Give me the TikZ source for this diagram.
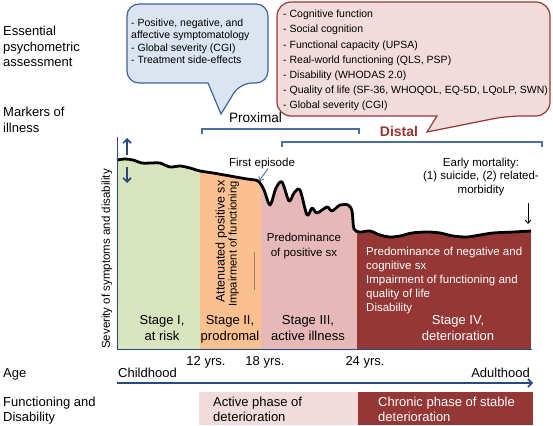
\documentclass[tikz,border=0pt]{standalone}
\usepackage{fontspec}
\setmainfont{Liberation Sans}
\usetikzlibrary{arrows.meta}
\definecolor{stgreen}{HTML}{D7E4BD}
\definecolor{storange}{HTML}{FAC08F}
\definecolor{stpink}{HTML}{E6B9B8}
\definecolor{stred}{HTML}{953735}
\definecolor{lightpink}{HTML}{F2DCDB}
\definecolor{bubblue}{HTML}{DBE5F1}
\definecolor{bubblueline}{HTML}{3E6397}
\definecolor{axisblue}{HTML}{254A7E}
\definecolor{bracketblue}{HTML}{4A6E9E}
\tikzset{
  lbl/.style={font=\fontsize{13}{15.5}\selectfont, align=left, anchor=north west, inner sep=0pt},
  bubtext/.style={font=\fontsize{10.5}{12.4}\selectfont, align=left, anchor=north west, inner sep=0pt},
  redtext/.style={font=\fontsize{10.5}{15.1}\selectfont, align=left, anchor=north west, inner sep=0pt},
  stagelbl/.style={font=\fontsize{13}{16}\selectfont, align=center, anchor=north, inner sep=0pt},
  smalltxt/.style={font=\fontsize{11.5}{14}\selectfont, inner sep=0pt},
  agelbl/.style={font=\fontsize{13}{15}\selectfont, inner sep=0pt, anchor=base},
  bracket/.style={draw=bracketblue, line width=1.1pt},
  dblarrow/.style={draw=axisblue, line width=1.6pt, -{Straight Barb[length=4pt,width=8pt]}},
  thinarrow/.style={line width=0.8pt, -{Straight Barb[length=3.5pt,width=6pt]}},
  curveline/.style={line width=2.8pt, line join=round, draw=black}
}
\begin{document}
\begin{tikzpicture}[x=1pt,y=-1pt]
\useasboundingbox (0,0) rectangle (553,425);

% left labels
\node[lbl] (ess) at (3,26) {Essential\\psychometric\\assessment};
\node[lbl] (mark) at (3,107) {Markers of\\illness};
\node[lbl] (age) at (3,368) {Age};
\node[lbl] (func) at (3,396.5) {Functioning and\\Disability};

% blue bubble
\draw[fill=bubblue, draw=bubblueline, line width=1.2pt]
  (208,83) [rounded corners=12pt] -- (127,83) -- (127,4) -- (268,4) -- (268,83) -- (240,83)
  [sharp corners] -- (221,114) -- cycle;
\node[bubtext] (bt) at (131,18.5) {- Positive, negative, and\\affective symptomatology\\- Global severity (CGI)\\- Treatment side-effects};

% red bubble
\draw[fill=lightpink, draw=stred, line width=1.2pt]
  (437,116) [rounded corners=14pt] -- (277,116) -- (277,2) -- (550,2) -- (550,116) -- (507,116)
  [sharp corners] -- (427,132) -- cycle;
\node[redtext] (rt) at (283,10) {- Cognitive function\\- Social cognition\\- Functional capacity (UPSA)\\- Real-world functioning (QLS, PSP)\\- Disability (WHODAS 2.0)\\- Quality of life (SF-36, WHOQOL, EQ-5D, LQoLP, SWN)\\- Global severity (CGI)};

% proximal / distal
\node[font=\fontsize{13.6}{16}\selectfont, inner sep=0pt, anchor=base] (prox) at (255.5,122) {Proximal};
\node[font=\fontsize{14}{16}\selectfont\bfseries, text=stred, inner sep=0pt, anchor=base] (dist) at (399,136) {Distal};
\draw[bracket] (202,134) -- (202,129) -- (359,129) -- (359,134);
\draw[bracket] (282,147) -- (282,142) -- (542,142) -- (542,147);

% stage regions
\begin{scope}
  \clip (117,349) -- plot[smooth,tension=0.5] coordinates {(117,160) (125,159) (133,160) (142,163) (152,163) (160,163) (170,167) (180,166) (190,168) (200,171) (213,173) (230,176) (247,179) (258,181) (264,190) (270,205) (276,188) (282,182) (289,201) (294,193) (300,190) (307,215) (312,208) (317,213) (327,207) (332,211) (340,205) (348,205) (352,211) (354,229) (360,232) (370,231) (380,235) (390,237) (400,236) (412,233) (427,232) (440,233) (453,236) (467,237) (480,235) (493,233) (513,232) (531,231)} -- (531,349) -- cycle;
  \fill[stgreen] (117,140) rectangle (200,349);
  \fill[storange] (200,140) rectangle (261,349);
  \fill[stpink] (261,140) rectangle (357,349);
  \fill[stred] (357,140) rectangle (531,349);
\end{scope}
\draw[curveline] plot[smooth,tension=0.5] coordinates {(117,160) (125,159) (133,160) (142,163) (152,163) (160,163) (170,167) (180,166) (190,168) (200,171) (213,173) (230,176) (247,179) (258,181) (264,190) (270,205) (276,188) (282,182) (289,201) (294,193) (300,190) (307,215) (312,208) (317,213) (327,207) (332,211) (340,205) (348,205) (352,211) (354,229) (360,232) (370,231) (380,235) (390,237) (400,236) (412,233) (427,232) (440,233) (453,236) (467,237) (480,235) (493,233) (513,232) (531,231)};

% axes
\draw[draw=axisblue, line width=1pt] (117,137) -- (117,349) -- (532,349);
\node[smalltxt, rotate=90] (ylab) at (107,259) {Severity of symptoms and disability};

% double arrow
\coordinate (upA) at (127,155);
\coordinate (upB) at (127,138);
\coordinate (dnA) at (127,167);
\coordinate (dnB) at (127,183);
\draw[dblarrow] (upA) -- (upB);
\draw[dblarrow] (dnA) -- (dnB);

% first episode
\node[smalltxt, anchor=base] (fe) at (262,166) {First episode};
\coordinate (fetip) at (259,181);
\draw[thinarrow, draw=bubblueline] ([xshift=6pt]fe.south) -- (fetip);

% early mortality
\node[smalltxt, font=\fontsize{11.5}{13.5}\selectfont, align=center, anchor=north] (em) at (481,157.7) {Early mortality:\\(1) suicide, (2) related-\\morbidity};
\coordinate (mtop) at (528,203);
\coordinate (mtip) at (528,224);
\draw[thinarrow] (mtop) -- (mtip);

% vertical texts in orange
\node[font=\fontsize{12.5}{14}\selectfont, rotate=90, anchor=mid west, inner sep=0pt] (att) at (222,303) {Attenuated positive sx};
\node[font=\fontsize{11.2}{14}\selectfont, rotate=90, anchor=mid west, inner sep=0pt] (imp) at (234,307) {Impairment of functioning};
\draw[line width=0.7pt, draw=brown!50!gray] (254,252) -- (254,290);

% region texts
\node[smalltxt, font=\fontsize{11.5}{15}\selectfont, align=center, anchor=north] (pps) at (304,232.7) {Predominance\\of positive sx};
\node[smalltxt, font=\fontsize{11.5}{14}\selectfont, align=left, anchor=north west, text=white] (neg) at (366,246.7) {Predominance of negative and\\cognitive sx\\Impairment of functioning and\\quality of life\\Disability};
\node[stagelbl] (s1) at (162,315.2) {Stage I,\\at risk};
\node[stagelbl] (s2) at (230,315.2) {Stage II,\\prodromal};
\node[stagelbl] (s3) at (308,315.2) {Stage III,\\active illness};
\node[stagelbl, text=white] (s4) at (458,315.2) {Stage IV,\\deterioration};

% age axis
\node[agelbl] (y12) at (206,365.7) {12 yrs.};
\node[agelbl] (y18) at (265,365.7) {18 yrs.};
\node[agelbl] (y24) at (365,365.7) {24 yrs.};
\node[agelbl, anchor=base west] (child) at (118,377) {Childhood};
\node[agelbl, anchor=base east] (adult) at (530,377) {Adulthood};
\coordinate (agestart) at (117,383);
\coordinate (ageend) at (533,383);
\draw[dblarrow] (agestart) -- (ageend);

% functioning boxes
\fill[lightpink] (199,392) rectangle (358,425);
\fill[stred] (358,392) rectangle (533,425);
\node[lbl, font=\fontsize{13}{15}\selectfont] (act) at (213,397) {Active phase of\\deterioration};
\node[lbl, font=\fontsize{13}{15}\selectfont, text=white] (chr) at (378,397) {Chronic phase of stable\\deterioration};
\end{tikzpicture}
\end{document}
